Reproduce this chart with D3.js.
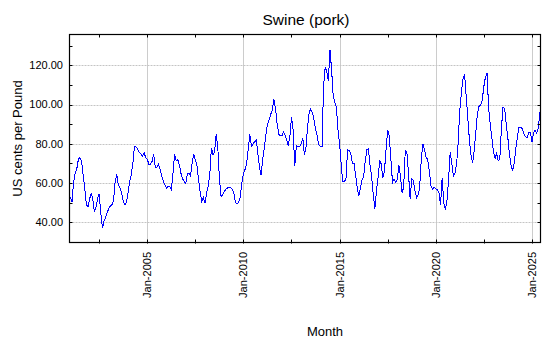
<!DOCTYPE html>
<html>
<head>
<meta charset="utf-8">
<script src="https://cdn.jsdelivr.net/npm/d3@7"></script>
<style>
  html, body { margin: 0; padding: 0; background: #ffffff; }
  svg { display: block; }
  text { font-family: "Liberation Sans", Arial, sans-serif; fill: #000; }
</style>
</head>
<body>
<svg id="chart" width="550" height="350"></svg>
<script>
// ---- Data (monthly, Jan 2001 .. Jun 2025), US cents per pound ----
const startYear = 2001;
const values2001_2004 = [
  53, 50.5, 60, 65, 67, 72, 73, 71, 64, 57, 49, 47.7,
  52, 54.5, 52, 45.3, 47.5, 52, 54.5, 45, 37, 40.5, 42.5, 45,
  47, 48.5, 49, 51, 61, 64.3, 59, 57.5, 55, 51, 49, 50,
  55, 61, 64, 70, 78.5, 78.5, 77.4, 75.7, 75, 73.7, 75.5, 73
];
const values2005_2009 = [
  72, 69.5, 69.5, 71, 75, 68, 68, 69.5, 67, 63.5, 61, 59,
  57.5, 58.3, 58.3, 56.6, 64, 74.5, 71.5, 72, 69.4, 65, 62, 61,
  59.7, 65, 65, 63.5, 70, 74.5, 72, 69, 61.7, 55.7, 50.6, 52.8,
  49.7, 55, 58.3, 64, 78, 74.5, 76, 84.8, 78, 62, 53.2, 54,
  55.5, 57, 57.4, 58, 57.8, 57, 55, 50, 49.2, 50, 53, 60
];
const values2010_2014 = [
  65, 67, 69.5, 77, 85, 78.6, 80, 81, 82, 75, 68, 64,
  72, 78, 84, 90, 92, 95, 97, 102.6, 98, 90.5, 85, 84,
  84, 86, 84.3, 82, 79, 84, 93.7, 87, 68.5, 79, 78.5, 78.5,
  80, 83, 74.5, 78, 88, 96, 97.7, 96, 92.3, 87.7, 84, 79.5,
  78.6, 78.6, 109, 119, 117, 112, 128, 118, 104.5, 101.4, 98.5, 87
];
const values2015_2019 = [
  80, 69, 61, 60.8, 62, 76.9, 76.5, 75, 70, 70, 64, 57.5,
  53.2, 57.8, 61.5, 63.5, 71, 77, 77.5, 69, 63, 54, 47, 56,
  62.9, 71.5, 69.7, 62.5, 66, 77, 87, 84, 72, 60.3, 62, 60.3,
  62, 69, 63.5, 55, 57.8, 76.6, 75.7, 65, 52, 62, 61.5, 56,
  52.6, 54, 57.8, 72, 80, 77, 73, 72, 66, 58.5, 57, 57.8
];
const values2020_2025 = [
  57, 56.5, 55, 49, 62.5, 50, 46.3, 51, 62, 75.8, 70, 63.4,
  65, 70, 80.5, 97, 106, 113, 115.5, 104, 93, 82, 74, 70,
  77, 86.5, 95, 99.1, 99.5, 102, 109, 114, 116, 98, 90, 83,
  76, 72.5, 75, 71.5, 72, 88, 98.5, 98, 90, 83, 74.5, 69,
  66.3, 70.5, 77.5, 84, 88.5, 88.3, 87.8, 85, 83.5, 83, 85.8, 85.8,
  81, 85.5, 86.8, 85.5, 88, 96
];
const yTickValues = [40, 60, 80, 100, 120];
const xTickYears = [2005, 2010, 2015, 2020, 2025];
const xMinorYears = [2002.5, 2007.5, 2012.5, 2017.5, 2022.5];
const titleText = "Swine (pork)";
const yLabelText = "US cents per Pound";
const xLabelText = "Month";

// ---- Build series ----
const allValues = [].concat(values2001_2004, values2005_2009, values2010_2014, values2015_2019, values2020_2025);
const series = allValues.map((v, i) => ({ date: new Date(startYear + Math.floor(i / 12), i % 12, 1), value: v }));

// ---- Layout ----
const svg = d3.select("#chart");
const L = 69.5, R = 540.5, T = 34.5, B = 242.5;

const x = d3.scaleTime()
  .domain([new Date(2000, 11, 15), new Date(2025, 5, 12)])
  .range([L, R]);
const y = d3.scaleLinear()
  .domain([29.7, 135.7])
  .range([B, T]);

const yearDate = yr => {
  const whole = Math.floor(yr);
  return new Date(whole, Math.round((yr - whole) * 12), 1);
};
const fmt = d3.timeFormat("%b-%Y");

// Vertical grid (major x ticks)
const gv = svg.append("g");
xTickYears.forEach(yr => {
  const px = Math.round(x(yearDate(yr))) + 0.5;
  gv.append("line").attr("x1", px).attr("x2", px).attr("y1", T).attr("y2", B)
    .attr("stroke", "#cccccc").attr("stroke-width", 1);
});
// Horizontal grid
yTickValues.forEach(v => {
  const py = Math.round(y(v)) + 0.5;
  gv.append("line").attr("x1", L).attr("x2", R).attr("y1", py).attr("y2", py)
    .attr("stroke", "#c4c4c4").attr("stroke-width", 1).attr("stroke-dasharray", "2,1");
});

// Data line
svg.append("clipPath").attr("id", "clip").append("rect")
  .attr("x", L).attr("y", T).attr("width", R - L).attr("height", B - T);
const line = d3.line().x(d => x(d.date)).y(d => y(d.value));
svg.append("path").datum(series)
  .attr("clip-path", "url(#clip)")
  .attr("fill", "none").attr("stroke", "#0000ff").attr("stroke-width", 1)
  .attr("shape-rendering", "crispEdges")
  .attr("d", line);

// Frame
svg.append("rect").attr("x", L).attr("y", T).attr("width", R - L).attr("height", B - T)
  .attr("fill", "none").attr("stroke", "#000").attr("stroke-width", 1.2);

// Minor y ticks (inward, both sides) every 10
const yMinor = d3.range(30, 136, 10);
yMinor.forEach(v => {
  const py = Math.round(y(v)) + 0.5;
  svg.append("line").attr("x1", L).attr("x2", L + 3).attr("y1", py).attr("y2", py).attr("stroke", "#000");
  svg.append("line").attr("x1", R - 3).attr("x2", R).attr("y1", py).attr("y2", py).attr("stroke", "#000");
});
// x ticks: major & minor, inward top & bottom, slightly outward at bottom
xTickYears.concat(xMinorYears).forEach(yr => {
  const px = Math.round(x(yearDate(yr))) + 0.5;
  svg.append("line").attr("x1", px).attr("x2", px).attr("y1", B - 3).attr("y2", B + 1).attr("stroke", "#000");
  svg.append("line").attr("x1", px).attr("x2", px).attr("y1", T).attr("y2", T + 3).attr("stroke", "#000");
});

// Y tick labels
yTickValues.forEach(v => {
  svg.append("text").attr("x", 63).attr("y", y(v)).attr("dy", "0.35em")
    .attr("text-anchor", "end").attr("font-size", 11).text(d3.format(".2f")(v));
});
// X tick labels (rotated)
xTickYears.forEach(yr => {
  const px = x(yearDate(yr));
  svg.append("text")
    .attr("transform", `translate(${px + 4},252) rotate(-90)`)
    .attr("text-anchor", "end").attr("font-size", 11)
    .text(fmt(yearDate(yr)));
});

// Title & axis labels
svg.append("text").attr("x", 306).attr("y", 25).attr("text-anchor", "middle")
  .attr("font-size", 15.5).text(titleText);
svg.append("text").attr("transform", `translate(22,${(T + B) / 2}) rotate(-90)`)
  .attr("text-anchor", "middle").attr("font-size", 13).text(yLabelText);
svg.append("text").attr("x", 325).attr("y", 336).attr("text-anchor", "middle")
  .attr("font-size", 13).text(xLabelText);
</script>
</body>
</html>
